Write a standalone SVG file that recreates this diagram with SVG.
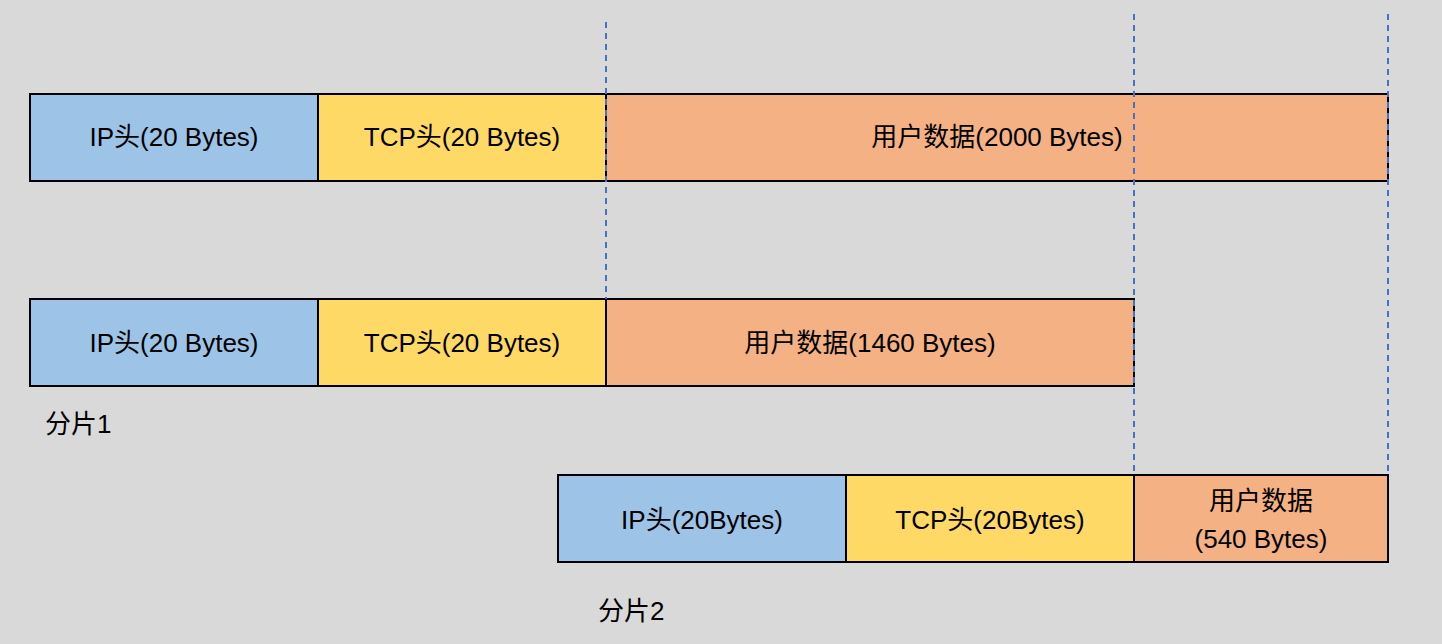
<svg xmlns="http://www.w3.org/2000/svg" width="1442" height="644" viewBox="0 0 1442 644">
<style>
rect.b{stroke:#000;stroke-width:2}
.ip{fill:#9dc3e6}.tcp{fill:#ffd966}.d{fill:#f4b183}
text{font-family:"Liberation Sans","Noto Sans CJK SC",sans-serif;font-size:26px;fill:#000}
.c{text-anchor:middle}
line{stroke:#4472c4;stroke-width:2;stroke-dasharray:6,5}
</style>
<rect width="1442" height="644" fill="#d9d9d9"/>
<g id="row1">
<g id="ip1"><rect class="b ip" x="30" y="94" width="288" height="87"/><text class="c" x="174" y="146">IP头(20 Bytes)</text></g>
<g id="tcp1"><rect class="b tcp" x="318" y="94" width="288" height="87"/><text class="c" x="462" y="146">TCP头(20 Bytes)</text></g>
<g id="data1"><rect class="b d" x="606" y="94" width="782" height="87"/><text class="c" x="997" y="146">用户数据(2000 Bytes)</text></g>
</g>
<g id="row2">
<g id="ip2"><rect class="b ip" x="30" y="299" width="288" height="87"/><text class="c" x="174" y="352">IP头(20 Bytes)</text></g>
<g id="tcp2"><rect class="b tcp" x="318" y="299" width="288" height="87"/><text class="c" x="462" y="352">TCP头(20 Bytes)</text></g>
<g id="data2"><rect class="b d" x="606" y="299" width="528" height="87"/><text class="c" x="870" y="352">用户数据(1460 Bytes)</text></g>
<text id="frag1" x="45" y="433">分片1</text>
</g>
<g id="row3">
<g id="ip3"><rect class="b ip" x="558" y="475" width="288" height="87"/><text class="c" x="702" y="529">IP头(20Bytes)</text></g>
<g id="tcp3"><rect class="b tcp" x="846" y="475" width="288" height="87"/><text class="c" x="990" y="529">TCP头(20Bytes)</text></g>
<g id="data3"><rect class="b d" x="1134" y="475" width="254" height="87"/><text class="c" x="1261" y="510">用户数据</text><text class="c" x="1261" y="548">(540 Bytes)</text></g>
<text id="frag2" x="598" y="620">分片2</text>
</g>
<g id="connectors">
<line x1="606" y1="22" x2="606" y2="299"/>
<line x1="1134" y1="14" x2="1134" y2="475"/>
<line x1="1388" y1="14" x2="1388" y2="475"/>
</g>
</svg>
